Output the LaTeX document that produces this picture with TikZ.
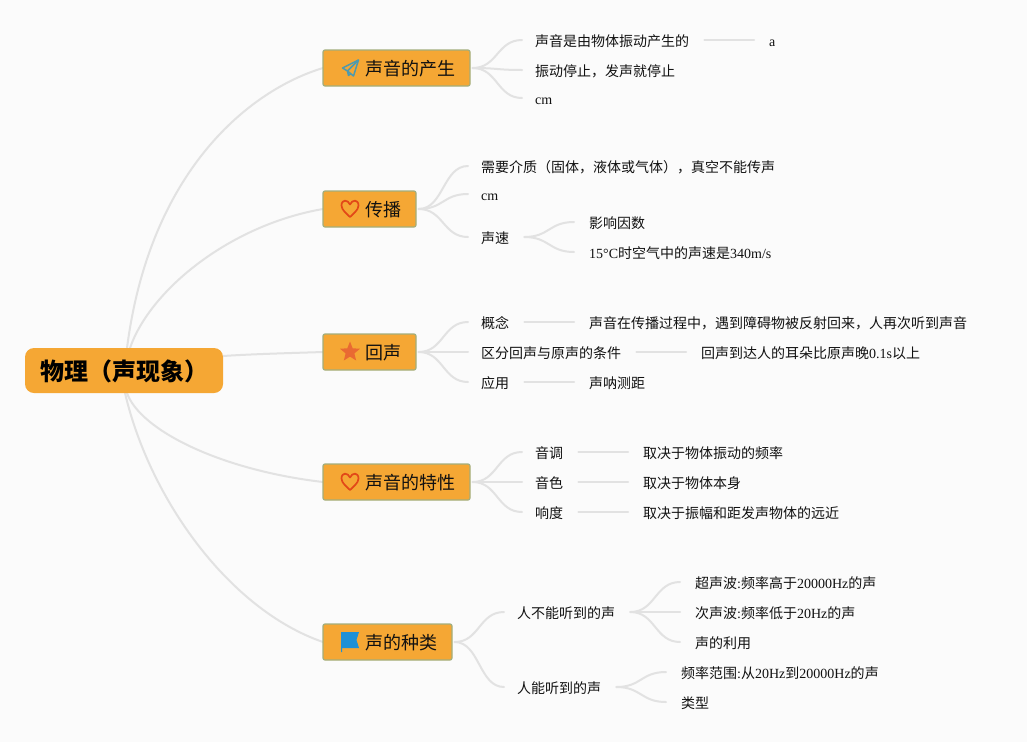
\documentclass[tikz,border=0pt]{standalone}
\usepackage{fontspec}
\setmainfont{Noto Sans CJK SC}
\newfontfamily\lat{Liberation Serif}
\definecolor{bgc}{HTML}{FBFBFB}
\definecolor{boxc}{HTML}{F5A734}
\definecolor{edgec}{HTML}{A3AE7C}
\definecolor{linec}{HTML}{E2E2E2}
\definecolor{txt}{HTML}{111111}
\definecolor{planec}{HTML}{4C9AB0}
\definecolor{heartc}{HTML}{E24818}
\definecolor{starc}{HTML}{E96A32}
\definecolor{flagc}{HTML}{1E90D6}
\tikzset{
  rootnode/.style={fill=boxc,rounded corners=9pt,minimum width=198pt,minimum height=45pt,inner sep=0pt,text=black,text height=21pt,text depth=2pt,font=\fontsize{24}{24}\selectfont\bfseries},
  topic/.style={fill=boxc,draw=edgec,line width=1.2pt,rounded corners=2pt,minimum height=36pt,inner sep=0pt,text=txt,text height=16pt,text depth=1pt,font=\fontsize{18}{18}\selectfont},
  leaf/.style={anchor=west,inner sep=0pt,text=txt,text height=12pt,text depth=1pt,font=\fontsize{14}{14}\selectfont},
  conn/.style={draw=linec,line width=2pt,line cap=round},
  flat/.style={conn,shorten <=15pt,shorten >=15pt},
  iconline/.style={line join=round,line width=1.5pt,draw=planec},
  heartline/.style={line join=round,line width=1.7pt,draw=heartc}
}
\newcommand{\branch}[2]{\draw[conn] ([xshift=2pt]#1.east) .. controls +(25,0) and +(-25,0) .. ([xshift=-13pt,yshift=1pt]#2.west);}
\newcommand{\flatline}[2]{\draw[flat] ([yshift=1pt]#1.east) -- ([yshift=1pt]#2.west);}
\newcommand{\subbranch}[2]{\draw[conn] ([xshift=15pt,yshift=1pt]#1.east) .. controls +(25,0) and +(-25,0) .. ([xshift=-15pt,yshift=1pt]#2.west);}
\begin{document}
\begin{tikzpicture}[x=1pt,y=-1pt]
\useasboundingbox (0,0) rectangle (1027,742);
\fill[bgc] (0,0) rectangle (1027,742);

% root connectors drawn first: named ends are declared as coordinates
\coordinate (rn1) at (127,348);
\coordinate (rn2) at (130,348);
\coordinate (re) at (223,356);
\coordinate (rs1) at (127,393);
\coordinate (rs2) at (125,393);
\coordinate (tl1) at (323,68);
\coordinate (tl2) at (323,209);
\coordinate (tl3) at (323,352);
\coordinate (tl4) at (323,482);
\coordinate (tl5) at (323,642);
\draw[conn] (rn1) .. controls +(23,-178) and +(-73,22) .. (tl1);
\draw[conn] (rn2) .. controls +(20,-58) and +(-93,16) .. (tl2);
\draw[conn] (re) .. controls +(30,-2) and +(-30,1) .. (tl3);
\draw[conn] (rs1) .. controls +(13,37) and +(-103,-12) .. (tl4);
\draw[conn] (rs2) .. controls +(25,107) and +(-93,-32) .. (tl5);

% nodes
\node[rootnode] (root) at (124,370.5) {物理（声现象）};
\node[topic,minimum width=147pt] (t1) at (396.5,68) {\hspace{27pt}声音的产生};
\node[topic,minimum width=93pt] (t2) at (369.5,209) {\hspace{28pt}传播};
\node[topic,minimum width=93pt] (t3) at (369.5,352) {\hspace{28pt}回声};
\node[topic,minimum width=147pt] (t4) at (396.5,482) {\hspace{27pt}声音的特性};
\node[topic,minimum width=129pt] (t5) at (387.5,642) {\hspace{28pt}声的种类};

\node[leaf] (a1) at (535,41) {声音是由物体振动产生的};
\node[leaf] (a1x) at (769,41) {\lat a};
\node[leaf] (a2) at (535,71) {振动停止，发声就停止};
\node[leaf] (a3) at (535,99) {\lat cm};

\node[leaf] (b1) at (481,167) {需要介质（固体，液体或气体），真空不能传声};
\node[leaf] (b2) at (481,195) {\lat cm};
\node[leaf] (b3) at (481,238) {声速};
\node[leaf] (b3a) at (589,223) {影响因数};
\node[leaf] (b3b) at (589,253) {{\lat 15°C}时空气中的声速是{\lat 340m/s}};

\node[leaf] (c1) at (481,323) {概念};
\node[leaf] (c1x) at (589,323) {声音在传播过程中，遇到障碍物被反射回来，人再次听到声音};
\node[leaf] (c2) at (481,353) {区分回声与原声的条件};
\node[leaf] (c2x) at (701,353) {回声到达人的耳朵比原声晚{\lat 0.1s}以上};
\node[leaf] (c3) at (481,383) {应用};
\node[leaf] (c3x) at (589,383) {声呐测距};

\node[leaf] (d1) at (535,453) {音调};
\node[leaf] (d1x) at (643,453) {取决于物体振动的频率};
\node[leaf] (d2) at (535,483) {音色};
\node[leaf] (d2x) at (643,483) {取决于物体本身};
\node[leaf] (d3) at (535,513) {响度};
\node[leaf] (d3x) at (643,513) {取决于振幅和距发声物体的远近};

\node[leaf] (e1) at (517,613) {人不能听到的声};
\node[leaf] (e1a) at (695,583) {超声波{\lat :}频率高于{\lat 20000Hz}的声};
\node[leaf] (e1b) at (695,613) {次声波{\lat :}频率低于{\lat 20Hz}的声};
\node[leaf] (e1c) at (695,643) {声的利用};
\node[leaf] (e2) at (517,688) {人能听到的声};
\node[leaf] (e2a) at (681,673) {频率范围{\lat :}从{\lat 20Hz}到{\lat 20000Hz}的声};
\node[leaf] (e2b) at (681,703) {类型};

% branch connectors
\branch{t1}{a1}\branch{t1}{a2}\branch{t1}{a3}
\branch{t2}{b1}\branch{t2}{b2}\branch{t2}{b3}
\branch{t3}{c1}\branch{t3}{c2}\branch{t3}{c3}
\branch{t4}{d1}\branch{t4}{d2}\branch{t4}{d3}
\branch{t5}{e1}\branch{t5}{e2}
\subbranch{b3}{b3a}\subbranch{b3}{b3b}
\subbranch{e1}{e1a}\subbranch{e1}{e1b}\subbranch{e1}{e1c}
\subbranch{e2}{e2a}\subbranch{e2}{e2b}
\flatline{a1}{a1x}
\flatline{c1}{c1x}\flatline{c2}{c2x}\flatline{c3}{c3x}
\flatline{d1}{d1x}\flatline{d2}{d2x}\flatline{d3}{d3x}

% icons
\begin{scope}[shift={(350,68)}]
\draw[iconline] (8.5,-8) -- (-7.5,0) -- (-2.5,3) -- (3.5,8) -- cycle;
\draw[iconline] (8.5,-8) -- (-2.5,3) -- (-1.5,7.5) -- (1,5.5);
\end{scope}
\foreach \yy in {209,482}{
\draw[heartline,shift={(350,\yy)}]
  (0,8) .. controls (-3,5) and (-8.5,1) .. (-8.5,-3.5) .. controls (-8.5,-10) and (-2,-9.5) .. (0,-4.5)
  .. controls (2,-9.5) and (8.5,-10) .. (8.5,-3.5) .. controls (8.5,1) and (3,5) .. (0,8) -- cycle;
}
\fill[starc,line join=round,shift={(350,352)}]
  (90:-10.5) -- (126:-4.6) -- (162:-10.5) -- (198:-4.6) -- (234:-10.5) -- (270:-4.6) -- (306:-10.5) -- (342:-4.6) -- (18:-10.5) -- (54:-4.6) -- cycle;
\begin{scope}[shift={(350,642)}]
\fill[flagc] (-9,-10) -- (9,-10) -- (6.5,-2) -- (9,6) -- (-8,6) -- (-8,10) -- (-9,10) -- cycle;
\end{scope}
\end{tikzpicture}
\end{document}
